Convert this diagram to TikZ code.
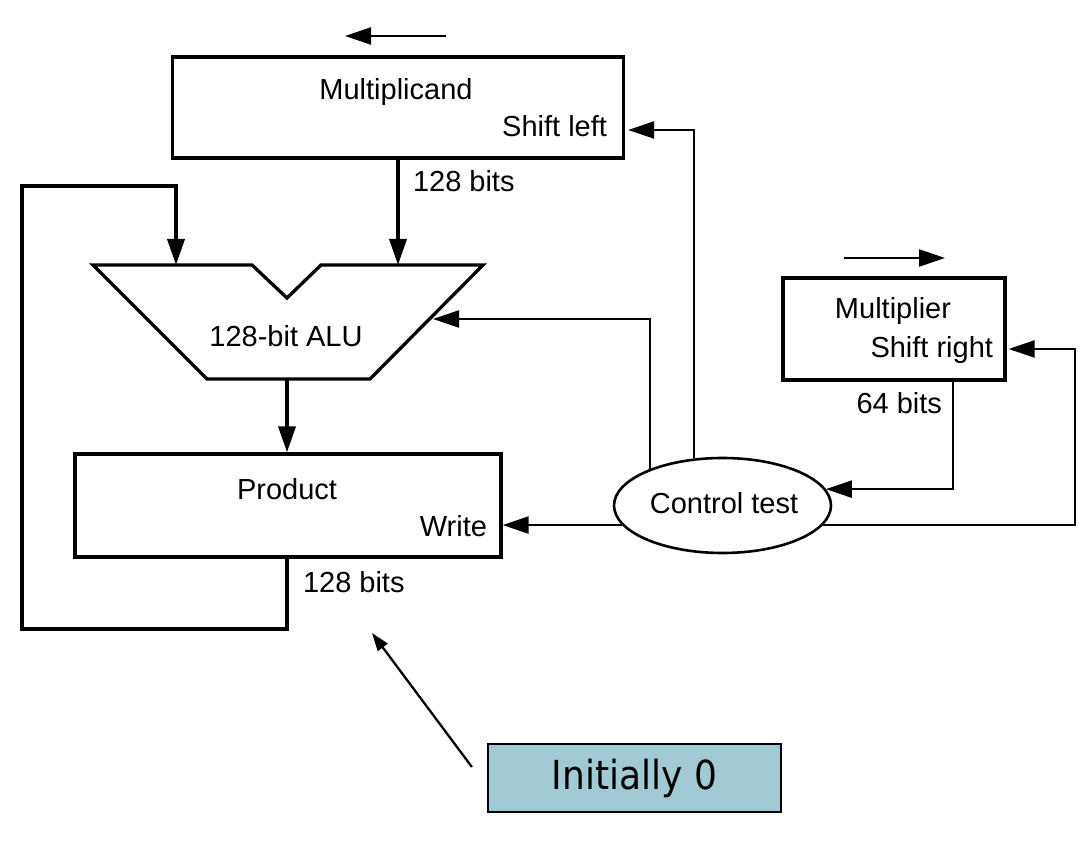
\documentclass[tikz,border=0pt]{standalone}
\usepackage{fontspec}
\setmainfont{Liberation Sans}
\newfontfamily\notefont{DejaVu Sans Condensed}
\usetikzlibrary{arrows.meta,shapes.geometric}
\definecolor{noteColor}{RGB}{161,202,212}
\tikzset{
  regbox/.style={draw,line width=3.3pt,minimum width=#1,inner sep=0pt},
  lbl/.style={font=\fontsize{29}{34}\selectfont,inner sep=0pt,outer sep=0pt},
  bus/.style={line width=3.6pt,-{Triangle[length=26pt,width=17pt]}},
  ctl/.style={line width=2.3pt,-{Triangle[length=26pt,width=17pt]}},
  note/.style={line width=2.3pt,-{Triangle[length=18pt,width=12pt]}}
}
\begin{document}
\begin{tikzpicture}[x=1pt,y=1pt]
\path[use as bounding box,fill=white] (0,0) rectangle (1086,841);

\node[regbox=451pt,minimum height=101pt] (mcand) at (398,733.5) {};
\node[lbl,anchor=base] (mcandtxt) at (396,741) {Multiplicand};
\node[lbl,anchor=base east] (shl) at (607,704) {Shift left};

\node[regbox=426pt,minimum height=103pt] (product) at (288,335.5) {};
\node[lbl,anchor=base] (prodtxt) at (287,341) {Product};
\node[lbl,anchor=base east] (wr) at (487,304) {Write};

\node[regbox=222pt,minimum height=102pt] (mplier) at (894,512) {};
\node[lbl,anchor=base] (mpliertxt) at (893,522) {Multiplier};
\node[lbl,anchor=base east] (shr) at (993,483) {Shift right};

\node[draw,ellipse,line width=2.6pt,minimum width=217pt,minimum height=95pt,inner sep=0pt] (ctrl) at (722.5,335.5) {};
\node[lbl,anchor=base] (ctrltxt) at (724,327) {Control test};

\coordinate (alutl) at (93,576);
\coordinate (alun1) at (252,576);
\coordinate (alunv) at (287,543);
\coordinate (alun2) at (321,576);
\coordinate (alutr) at (483,576);
\coordinate (alubr) at (370,462);
\coordinate (alubl) at (207,462);
\draw[line width=3.3pt,line join=miter] (alutl) -- (alun1) -- (alunv) -- (alun2) -- (alutr) -- (alubr) -- (alubl) -- cycle;
\node[lbl,anchor=base] (alutxt) at (286,494) {128-bit ALU};

\coordinate (aluinl) at (176,576);
\coordinate (aluin) at (433,522);
\coordinate (aluout) at (287,462);
\coordinate (fbbl) at (22,212);
\coordinate (fbtl) at (22,655);
\coordinate (rloop) at (1075,492);
\coordinate (mout) at (953,461);

\draw[bus] (mcand.south) -- (mcand.south |- alutr);
\node[lbl,anchor=base west] (mcbits) at (413,649) {128 bits};
\draw[bus] (aluout) -- (product.north -| aluout);
\draw[bus] (product.south -| aluout) |- (fbbl) -- (fbtl) -| (aluinl);
\node[lbl,anchor=base west] (pbits) at (303,249) {128 bits};

\draw[ctl] (ctrl.153) |- (aluin);
\draw[ctl] (ctrl.121) |- ([xshift=3pt,yshift=-22.5pt]mcand.east);
\draw[ctl] (ctrl.191) -- (ctrl.191 -| product.east);
\draw[ctl] (ctrl.349) -| (rloop) -- ([xshift=2pt,yshift=-20pt]mplier.east);
\draw[ctl] (mout) |- (ctrl.9);
\node[lbl,anchor=base east] (mbits) at (942,427) {64 bits};

\coordinate (mcdirr) at (446,805);
\coordinate (mcdirl) at (345,805);
\draw[ctl] (mcdirr) -- (mcdirl);
\coordinate (mpdirl) at (844,583);
\coordinate (mpdirr) at (945,583);
\draw[ctl] (mpdirl) -- (mpdirr);

\node[draw,line width=2.2pt,fill=noteColor,minimum width=293pt,minimum height=68pt,inner sep=0pt,font=\notefont\fontsize{40}{46}\selectfont] (init) at (634.5,63) {Initially 0};
\coordinate (ptr) at (372,208);
\draw[note] ([xshift=-15pt,yshift=11pt]init.west) -- (ptr);
\end{tikzpicture}
\end{document}
